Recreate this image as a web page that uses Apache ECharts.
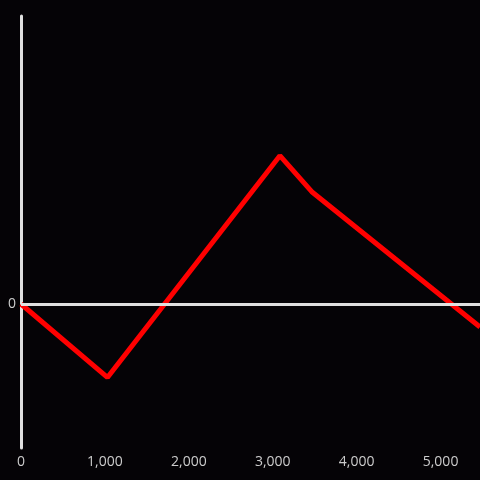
<!DOCTYPE html>
<html>
<head>
<meta charset="utf-8">
<script src="https://cdn.jsdelivr.net/npm/echarts@6/dist/echarts.min.js"></script>
<style>
  html, body { margin: 0; padding: 0; background: #050306; }
  #chart { width: 480px; height: 480px; }
</style>
</head>
<body>
<div id="chart"></div>
<script>
const xValues = [0, 1030, 3085, 3465, 5470];
const yValues = [0, -0.51, 1.03, 0.78, -0.16];

const myChart = echarts.init(document.getElementById('chart'));
const option = {
  backgroundColor: '#050306',
  animation: false,
  grid: { left: 21, right: 0, top: 16, bottom: 32 },
  xAxis: {
    type: 'value',
    min: 0,
    max: 5470,
    interval: 1000,
    axisLine: { show: false },
    axisTick: { show: false },
    splitLine: { show: false },
    axisLabel: {
      color: '#cccccc',
      fontSize: 14,
      fontFamily: 'Open Sans',
      margin: 7,
      showMaxLabel: false,
      formatter: (v) => v.toLocaleString('en-US')
    }
  },
  yAxis: {
    type: 'value',
    min: -1,
    max: 2,
    interval: 1,
    axisLine: { show: true, onZero: false, lineStyle: { color: '#e0e0e0', width: 3 } },
    axisTick: { show: false },
    splitLine: { show: false },
    axisLabel: {
      color: '#cccccc',
      fontSize: 14,
      fontFamily: 'Open Sans',
      margin: 5,
      formatter: (v) => (v === 0 ? '0' : '')
    }
  },
  series: [{
    type: 'line',
    data: xValues.map((x, i) => [x, yValues[i]]),
    showSymbol: false,
    lineStyle: { color: '#ff0000', width: 5 },
    markLine: {
      silent: true,
      symbol: 'none',
      label: { show: false },
      lineStyle: { color: '#e0e0e0', width: 3, type: 'solid' },
      data: [{ yAxis: 0 }]
    },
    z: 3
  }]
};
myChart.setOption(option);
</script>
</body>
</html>
